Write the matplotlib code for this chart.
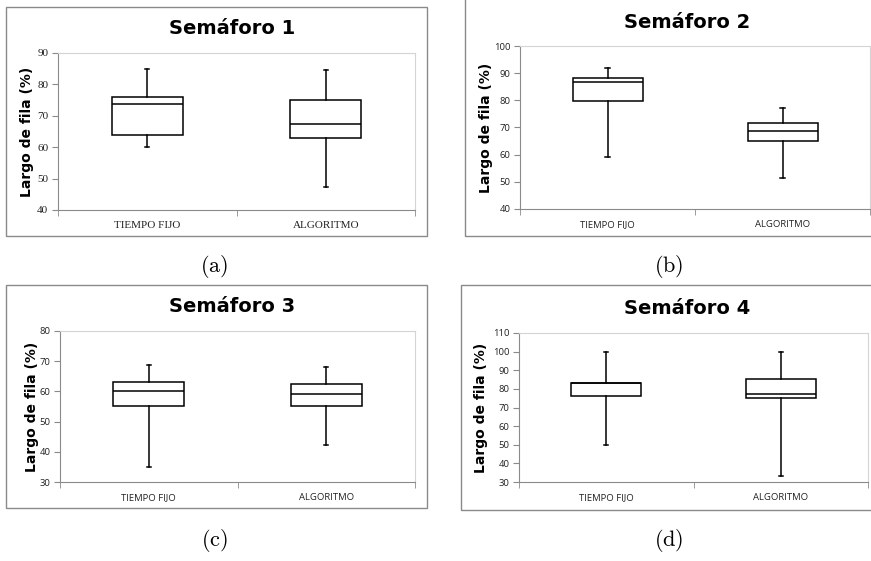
import matplotlib
matplotlib.use("Agg")
import matplotlib.pyplot as plt
from matplotlib.patches import Rectangle

# figure size in pixels
W, H = 871, 561

categories = ["TIEMPO FIJO", "ALGORITMO"]
titles = ["Semáforo 1", "Semáforo 2", "Semáforo 3", "Semáforo 4"]
captions = ["(a)", "(b)", "(c)", "(d)"]
ylabel = "Largo de fila (%)"

# box stats, one pair [TIEMPO FIJO, ALGORITMO] per panel
whisker_low = [[60.0, 47.3], [59.2, 51.5], [35.0, 42.2], [50.0, 33.3]]
q1 = [[63.8, 63.0], [79.8, 65.0], [55.1, 55.0], [76.2, 74.9]]
median = [[73.6, 67.3], [86.6, 68.7], [60.0, 59.0], [83.0, 77.3]]
q3 = [[75.9, 75.0], [88.4, 71.6], [63.1, 62.4], [83.3, 85.1]]
whisker_high = [[85.0, 84.6], [92.0, 77.0], [68.7, 68.0], [100.0, 100.0]]

y_min = [40, 40, 30, 30]
y_max = [90, 100, 80, 110]

plt.rcParams['mathtext.fontset'] = 'cm'

# panel layout in pixels: frame box, axes box, title centre, caption centre
layout = [
    dict(frame=(6, 7, 427, 236), ax=(58, 53, 415, 210), title=(232, 28),
         cap=(214, 266), ylab_x=27, tickfont='Liberation Serif', ticksize=8),
    dict(frame=(465, -5, 885, 236), ax=(520, 46, 870, 209), title=(687, 22),
         cap=(669, 266), ylab_x=486, tickfont='Open Sans', ticksize=6.8),
    dict(frame=(6, 285, 427, 508), ax=(60, 331, 415, 482), title=(232, 307),
         cap=(214, 541), ylab_x=32, tickfont='Open Sans', ticksize=6.8),
    dict(frame=(461, 285, 885, 510), ax=(519, 333, 868, 482), title=(687, 308),
         cap=(669, 541), ylab_x=481, tickfont='Open Sans', ticksize=6.8),
]


def fx(x):
    return x / W


def fy(y):
    return 1 - y / H


fig = plt.figure(figsize=(W / 100, H / 100), dpi=100)

for i, lay in enumerate(layout):
    x0, y0, x1, y1 = lay["frame"]
    fig.patches.append(Rectangle((fx(x0), fy(y1)), (x1 - x0) / W, (y1 - y0) / H,
                                 transform=fig.transFigure, fill=False,
                                 ec='#8a8a8a', lw=1.0))

    a0, b0, a1, b1 = lay["ax"]
    ax = fig.add_axes([fx(a0), fy(b1), (a1 - a0) / W, (b1 - b0) / H])

    stats = []
    for j, cat in enumerate(categories):
        stats.append(dict(label=cat, whislo=whisker_low[i][j], q1=q1[i][j],
                          med=median[i][j], q3=q3[i][j],
                          whishi=whisker_high[i][j], fliers=[]))
    line = dict(color='black', lw=1.1)
    ax.bxp(stats, positions=[1, 2], widths=0.4, capwidths=0.025,
           showfliers=False, patch_artist=True,
           boxprops=dict(facecolor='white', edgecolor='black', lw=1.1),
           medianprops=line, whiskerprops=line, capprops=line)

    ax.set_xlim(0.5, 2.5)
    ax.set_ylim(y_min[i], y_max[i])
    ax.set_yticks(range(y_min[i], y_max[i] + 1, 10))
    ax.set_xticks([1, 2])
    ax.set_xticklabels(categories)
    ax.set_xticks([0.5, 1.5, 2.5], minor=True)
    ax.tick_params(axis='x', which='major', length=0, pad=8)
    ax.tick_params(axis='x', which='minor', length=4, color='#8a8a8a')
    ax.tick_params(axis='y', length=4, color='#8a8a8a', pad=3)
    for lab in ax.get_xticklabels() + ax.get_yticklabels():
        lab.set_fontfamily(lay["tickfont"])
        lab.set_fontsize(lay["ticksize"])
        lab.set_color('#222222')
    ax.spines['left'].set_color('#8a8a8a')
    ax.spines['bottom'].set_color('#8a8a8a')
    ax.spines['top'].set_color('#d4d4d4')
    ax.spines['right'].set_color('#d4d4d4')

    tx, ty = lay["title"]
    fig.text(fx(tx), fy(ty), titles[i], ha='center', va='center',
             fontsize=14, fontweight='bold', family='DejaVu Sans')
    fig.text(fx(lay["ylab_x"]), fy((b0 + b1) / 2), ylabel, rotation=90,
             ha='center', va='center', fontsize=10, fontweight='bold',
             family='DejaVu Sans')
    cx, cy = lay["cap"]
    fig.text(fx(cx), fy(cy), r'$\mathrm{' + captions[i] + '}$',
             ha='center', va='center', fontsize=16)

fig.savefig("out.png", dpi=100, facecolor='white')
